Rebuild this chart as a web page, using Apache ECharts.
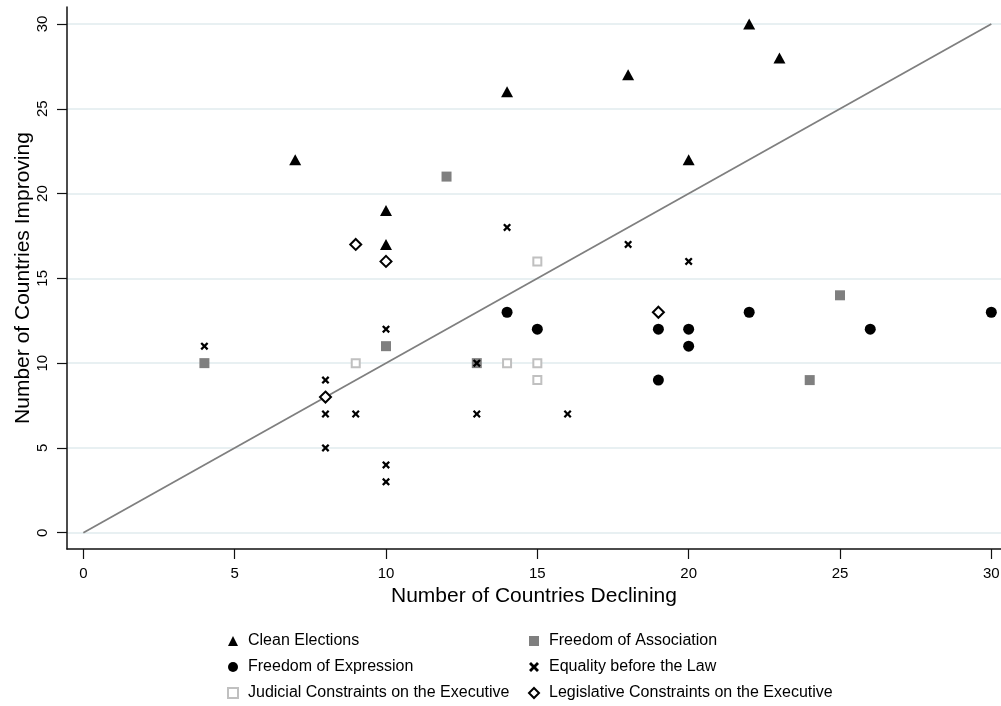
<!DOCTYPE html>
<html>
<head>
<meta charset="utf-8">
<script src="https://cdn.jsdelivr.net/npm/echarts@6/dist/echarts.min.js"></script>
<style>
html,body{margin:0;padding:0;background:#fff;}
#chart{width:1001px;height:706px;}
</style>
</head>
<body>
<div id="chart"></div>
<script>
// ---- Data (x = countries declining, y = countries improving) ----
const cleanElections = [[7,22],[10,19],[10,17],[14,26],[18,27],[20,22],[22,30],[23,28]];
const freedomAssociation = [[4,10],[10,11],[12,21],[13,10],[24,9],[25,14]];
const freedomExpression = [[14,13],[15,12],[19,12],[19,9],[20,12],[20,11],[22,13],[26,12],[30,13]];
const equalityLaw = [[4,11],[8,9],[8,7],[8,5],[9,7],[10,12],[10,4],[10,3],[13,10],[13,7],[14,18],[16,7],[18,17],[20,16]];
const judicialConstraints = [[9,10],[14,10],[15,10],[15,9],[15,16]];
const legislativeConstraints = [[8,8],[9,17],[10,16],[19,13]];
const diagonal = [[0,0],[30,30]];
const xTicks = [0,5,10,15,20,25,30];
const yTicks = [0,5,10,15,20,25,30];
const seriesNames = ['Clean Elections','Freedom of Association','Freedom of Expression','Equality before the Law','Judicial Constraints on the Executive','Legislative Constraints on the Executive'];

const FONT = '"Liberation Sans", Arial, Helvetica, sans-serif';
const XPATH = 'path://M0,2L2,0L5,3L8,0L10,2L7,5L10,8L8,10L5,7L2,10L0,8L3,5Z';

const chart = echarts.init(document.getElementById('chart'), null, {renderer:'canvas'});

const legendText = {fontSize: 16, color: '#000', fontFamily: FONT, lineHeight: 16, padding: [0,0,0,5]};

const option = {
  backgroundColor: '#fff',
  animation: false,
  textStyle: {fontFamily: FONT},
  grid: {left: 67, right: 0, top: 7, bottom: 157, containLabel: false, outerBoundsMode: 'none'},
  xAxis: {
    type: 'value', min: -0.54, max: 30.32,
    name: 'Number of Countries Declining', nameLocation: 'middle', nameGap: 35,
    nameTextStyle: {fontSize: 21, color: '#000', fontFamily: FONT},
    axisLine: {show: true, onZero: false, lineStyle: {color: '#111', width: 1.5}},
    axisTick: {show: true, length: 10, customValues: xTicks, lineStyle: {color: '#111', width: 1.2}},
    axisLabel: {customValues: xTicks, fontSize: 15, color: '#000', margin: 17, fontFamily: FONT},
    splitLine: {show: false}
  },
  yAxis: {
    type: 'value', min: -0.96, max: 31,
    name: 'Number of Countries Improving', nameLocation: 'middle', nameGap: 33, nameRotate: 90,
    nameMoveOverlap: false,
    nameTextStyle: {fontSize: 21, color: '#000', fontFamily: FONT},
    axisLine: {show: true, onZero: false, lineStyle: {color: '#111', width: 1.5}},
    axisTick: {show: true, length: 10, customValues: yTicks, lineStyle: {color: '#111', width: 1.2}},
    axisLabel: {customValues: yTicks, fontSize: 15, color: '#000', margin: 17, rotate: 90, fontFamily: FONT},
    splitLine: {show: false}
  },
  legend: [
    {
      orient: 'vertical', left: 227, top: 633, padding: 0, itemWidth: 10, itemHeight: 10, itemGap: 10,
      textStyle: legendText,
      data: [seriesNames[0], seriesNames[2], seriesNames[4]]
    },
    {
      orient: 'vertical', left: 528, top: 633, padding: 0, itemWidth: 10, itemHeight: 10, itemGap: 10,
      textStyle: legendText,
      data: [seriesNames[1], seriesNames[3], seriesNames[5]]
    }
  ],
  series: [
    {
      type: 'line', name: 'grid', data: [], silent: true, z: 0,
      markLine: {
        silent: true, symbol: 'none', label: {show: false}, z: 0,
        lineStyle: {color: '#e8f0f2', width: 2, type: 'solid'},
        data: yTicks.map(v => ({yAxis: v}))
      }
    },
    {
      type: 'line', name: 'diag', data: diagonal, showSymbol: false, symbol: 'none', z: 2,
      lineStyle: {color: '#7f7f7f', width: 1.8}
    },
    {
      type: 'scatter', name: seriesNames[0], data: cleanElections, z: 3,
      symbol: 'triangle', symbolSize: [12, 11],
      itemStyle: {color: '#000', opacity: 1}
    },
    {
      type: 'scatter', name: seriesNames[1], data: freedomAssociation, z: 3,
      symbol: 'rect', symbolSize: 10,
      itemStyle: {color: '#7f7f7f', opacity: 1}
    },
    {
      type: 'scatter', name: seriesNames[2], data: freedomExpression, z: 3,
      symbol: 'circle', symbolSize: 11,
      itemStyle: {color: '#000', opacity: 1}
    },
    {
      type: 'scatter', name: seriesNames[3], data: equalityLaw, z: 4,
      symbol: XPATH, symbolSize: 8,
      itemStyle: {color: '#000', opacity: 1}
    },
    {
      type: 'scatter', name: seriesNames[4], data: judicialConstraints, z: 3,
      symbol: 'rect', symbolSize: 8,
      itemStyle: {color: '#fff', borderColor: '#c0c0c0', borderWidth: 2, opacity: 1}
    },
    {
      type: 'scatter', name: seriesNames[5], data: legislativeConstraints, z: 3,
      symbol: 'diamond', symbolSize: 11,
      itemStyle: {color: '#fff', borderColor: '#000', borderWidth: 2, opacity: 1}
    }
  ]
};
chart.setOption(option);
</script>
</body>
</html>
